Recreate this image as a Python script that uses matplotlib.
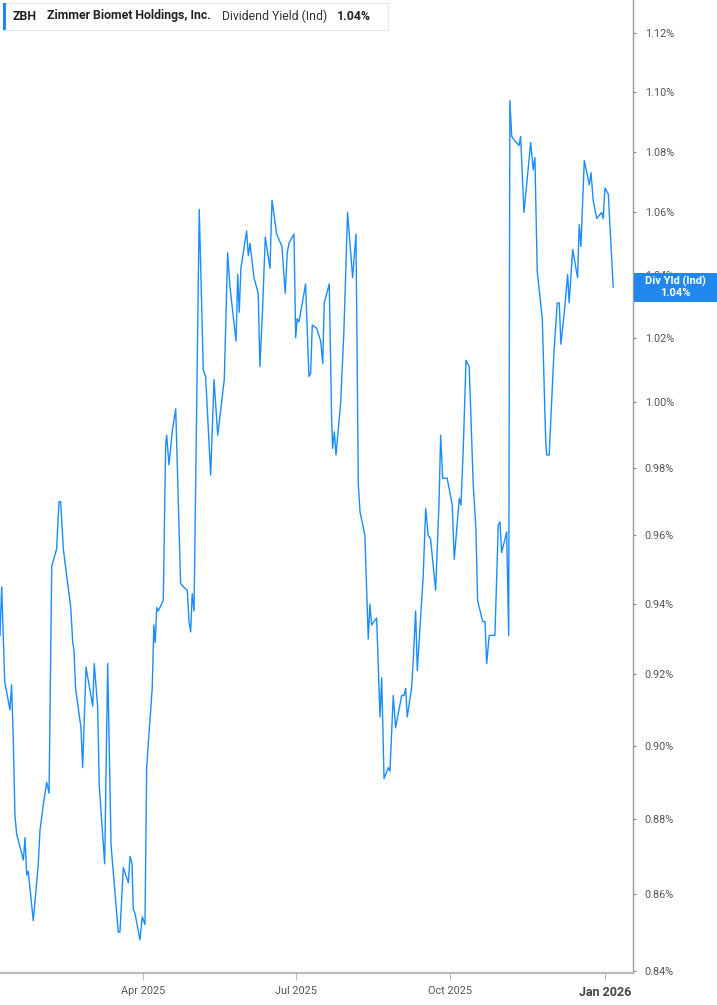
import numpy as np
import matplotlib
matplotlib.use("Agg")
import matplotlib.pyplot as plt
import matplotlib.dates as mdates
from matplotlib.ticker import FixedLocator, NullLocator, FuncFormatter
from matplotlib.patches import Rectangle

plt.rcParams['font.family'] = ['Roboto', 'DejaVu Sans']

# days since 2025-01-01 and dividend yield (%)
day_offsets = [
    4.9, 5.9, 7.7, 10.8, 11.8, 12.8, 13.8, 14.8, 18.8, 19.8, 20.8, 21.7, 24.7, 26.7, 27.7,
    28.7, 30.7, 32.7, 34.1, 35.7, 38.6, 40.0, 41.0, 42.6, 47.0, 48.2, 48.9, 49.9, 53.1, 54.1,
    56.1, 60.1, 61.0, 63.0, 64.0, 67.2, 69.0, 71.0, 75.3, 76.3, 78.3, 81.3, 82.3, 83.5, 84.2,
    85.2, 88.2, 89.6, 91.2, 92.2, 95.5, 96.5, 97.3, 98.2, 99.1, 102.1, 103.5, 104.1, 105.5,
    107.4, 109.5, 112.4, 114.0, 116.4, 117.4, 118.4, 119.3, 120.4, 123.5, 125.9, 127.3, 130.3,
    132.3, 134.5, 138.4, 140.4, 141.8, 145.4, 146.4, 147.3, 148.3, 151.7, 152.7, 153.7, 156.1,
    158.6, 159.6, 161.2, 162.8, 165.6, 166.8, 169.6, 172.7, 174.7, 175.9, 176.9, 179.9, 180.9,
    181.8, 182.9, 186.8, 188.8, 189.8, 190.8, 193.4, 195.8, 197.0, 197.9, 200.9, 202.3, 202.9,
    203.9, 204.9, 207.7, 209.6, 211.8, 214.8, 216.8, 218.2, 219.2, 222.1, 224.1, 225.1, 226.1,
    229.1, 231.1, 232.1, 233.5, 236.0, 237.0, 239.0, 240.4, 244.0, 245.4, 246.4, 247.3, 249.9,
    250.9, 252.3, 253.3, 256.8, 258.3, 259.8, 261.2, 264.2, 266.2, 267.2, 268.4, 271.1, 274.1,
    275.3, 278.3, 279.3, 280.6, 282.3, 284.2, 286.6, 288.2, 289.2, 292.2, 293.6, 294.6, 296.1,
    297.9, 299.5, 301.5, 302.5, 303.5, 306.5, 307.7, 308.4, 309.5, 310.8, 313.8, 314.8, 316.8,
    320.8, 322.3, 323.3, 324.7, 327.7, 329.7, 330.3, 331.8, 334.6, 336.6, 337.8, 338.8, 340.8,
    342.8, 343.7, 345.8, 348.7, 349.7, 350.7, 352.7, 355.7, 356.7, 358.0, 360.1, 363.0, 364.0,
    365.0, 367.0, 369.9,
]
div_yield = [
    0.931, 0.945, 0.918, 0.910, 0.917, 0.902, 0.881, 0.876, 0.869, 0.875, 0.865, 0.866, 0.853,
    0.863, 0.868, 0.877, 0.884, 0.890, 0.887, 0.951, 0.956, 0.970, 0.970, 0.956, 0.939, 0.929,
    0.927, 0.916, 0.905, 0.894, 0.922, 0.911, 0.923, 0.911, 0.889, 0.868, 0.923, 0.873, 0.850,
    0.850, 0.867, 0.863, 0.870, 0.868, 0.856, 0.855, 0.848, 0.854, 0.852, 0.894, 0.916, 0.934,
    0.929, 0.939, 0.938, 0.941, 0.987, 0.990, 0.981, 0.991, 0.998, 0.946, 0.945, 0.944, 0.935,
    0.932, 0.943, 0.938, 1.061, 1.010, 1.008, 0.978, 1.007, 0.990, 1.007, 1.047, 1.036, 1.019,
    1.040, 1.028, 1.042, 1.054, 1.046, 1.050, 1.039, 1.034, 1.011, 1.029, 1.052, 1.042, 1.064,
    1.053, 1.049, 1.034, 1.047, 1.050, 1.053, 1.020, 1.026, 1.025, 1.037, 1.008, 1.009, 1.024,
    1.023, 1.019, 1.012, 1.031, 1.037, 0.995, 0.986, 0.991, 0.984, 1.000, 1.022, 1.060, 1.039,
    1.053, 0.975, 0.967, 0.960, 0.930, 0.940, 0.934, 0.936, 0.908, 0.919, 0.891, 0.894, 0.893,
    0.914, 0.905, 0.914, 0.914, 0.916, 0.908, 0.916, 0.924, 0.938, 0.921, 0.948, 0.968, 0.960,
    0.959, 0.944, 0.969, 0.990, 0.977, 0.977, 0.969, 0.953, 0.971, 0.969, 0.985, 1.013, 1.011,
    0.975, 0.962, 0.941, 0.935, 0.935, 0.923, 0.931, 0.931, 0.931, 0.963, 0.964, 0.955, 0.961,
    0.931, 1.097, 1.085, 1.084, 1.082, 1.085, 1.060, 1.083, 1.074, 1.078, 1.041, 1.026, 0.989,
    0.984, 0.984, 1.015, 1.031, 1.031, 1.018, 1.028, 1.040, 1.031, 1.048, 1.039, 1.056, 1.049,
    1.077, 1.069, 1.073, 1.064, 1.058, 1.060, 1.058, 1.068, 1.066, 1.036,
]

y_ticks = [0.84, 0.86, 0.88, 0.90, 0.92, 0.94, 0.96, 0.98, 1.00, 1.02, 1.04, 1.06, 1.08, 1.10, 1.12]
x_ticks = ['2025-04-01', '2025-07-01', '2025-10-01', '2026-01-01']

blue = '#1a8cff'
W, H = 717, 1005
start = np.datetime64('2025-01-01T00:00')
dates = start + (np.array(day_offsets) * 24 * 60).astype('timedelta64[m]')

fig = plt.figure(figsize=(W / 100, H / 100), dpi=100)
ax = fig.add_axes([0.0, 32 / H, 633 / W, 973 / H])

ax.plot(dates, div_yield, color=blue, lw=1.0)

ax.set_yscale('log')
ax.set_ylim(0.8394, 1.1314)
ax.set_xlim(start + np.timedelta64(int(4.9 * 24 * 60), 'm'),
            start + np.timedelta64(int(381.7 * 24 * 60), 'm'))

ax.yaxis.tick_right()
ax.yaxis.set_major_locator(FixedLocator(y_ticks))
ax.yaxis.set_minor_locator(NullLocator())
ax.yaxis.set_major_formatter(FuncFormatter(lambda v, p: f'{v:.2f}%'))
ax.tick_params(axis='y', which='both', length=2.5, width=0.8, color='#888888',
               labelsize=7.8, labelcolor='#555555', pad=6)

ax.set_xticks([mdates.datestr2num(d) for d in x_ticks])
ax.set_xticklabels(['Apr 2025', 'Jul 2025', 'Oct 2025', 'Jan 2026'])
ax.tick_params(axis='x', length=5, width=0.8, color='#bbbbbb',
               labelsize=7.8, labelcolor='#555555', pad=4)
jan = ax.get_xticklabels()[-1]
jan.set_fontweight('bold')
jan.set_fontsize(9)
jan.set_color('#444444')

for s in ['top', 'left']:
    ax.spines[s].set_visible(False)
ax.spines['right'].set_color('#999999')
ax.spines['right'].set_linewidth(1.0)
ax.spines['bottom'].set_color('#bbbbbb')
ax.spines['bottom'].set_linewidth(1.6)

# legend box top-left
fig.patches.append(Rectangle((3 / W, 1 - 30 / H), 385 / W, 27 / H,
                             transform=fig.transFigure, facecolor='white',
                             edgecolor='#e6e6e6', lw=0.8, zorder=5))
fig.patches.append(Rectangle((3 / W, 1 - 30 / H), 3 / W, 27 / H,
                             transform=fig.transFigure, facecolor=blue,
                             edgecolor='none', zorder=6))
ty = 1 - 16 / H
fig.text(13 / W, ty, 'ZBH', fontsize=8.8, fontweight='bold', color='#222222', va='center', zorder=7)
fig.text(47 / W, ty, 'Zimmer Biomet Holdings, Inc.', fontsize=8.8, fontweight='bold',
         color='#222222', va='center', zorder=7)
fig.text(222 / W, ty, 'Dividend Yield (Ind)', fontsize=8.8, color='#333333', va='center', zorder=7)
fig.text(337 / W, ty, '1.04%', fontsize=8.8, fontweight='bold', color='#222222', va='center', zorder=7)

# last value flag on right axis
last = div_yield[-1]
y_pix = ax.transData.transform((mdates.date2num(dates[-1]), last))[1]
fig.patches.append(Rectangle((634 / W, (y_pix - 14.5) / H), 83 / W, 29 / H,
                             transform=fig.transFigure, facecolor='#2288ee',
                             edgecolor='none', zorder=10))
fig.text(675 / W, (y_pix + 6) / H, 'Div Yld (Ind)', fontsize=8, fontweight='bold',
         color='white', ha='center', va='center', zorder=11)
fig.text(675 / W, (y_pix - 6) / H, '1.04%', fontsize=8, fontweight='bold',
         color='white', ha='center', va='center', zorder=11)

fig.savefig('out.png', dpi=100, facecolor='white')
